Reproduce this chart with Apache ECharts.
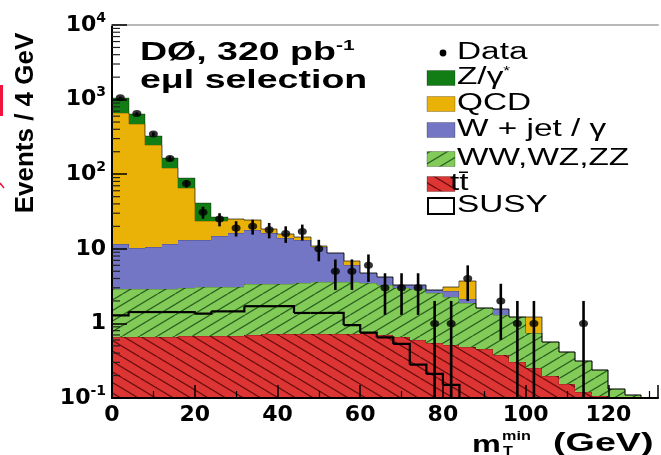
<!DOCTYPE html>
<html>
<head>
<meta charset="utf-8">
<script src="https://cdn.jsdelivr.net/npm/echarts@6/dist/echarts.min.js"></script>
<style>
html, body { margin: 0; padding: 0; background: #fff; }
#chart { width: 661px; height: 455px; }
</style>
</head>
<body>
<div id="chart"></div>
<script>
// bins of 4 GeV, low edges
var binWidth = 4
var binLow = [0, 4, 8, 12, 16, 20, 24, 28, 32, 36, 40, 44, 48, 52, 56, 60,
              64, 68, 72, 76, 80, 84, 88, 92, 96, 100, 104, 108, 112, 116, 120, 124]

// stacked backgrounds, bottom to top
var ttbar = [0.66, 0.66, 0.66, 0.66, 0.68, 0.68, 0.68, 0.68, 0.70, 0.72, 0.72, 0.72, 0.72, 0.72, 0.72, 0.74,
             0.70, 0.65, 0.60, 0.55, 0.51, 0.49, 0.46, 0.38, 0.30, 0.25, 0.20, 0.155, 0.12, 0.105, 0.04, 0.02]
var diboson = [2.24, 2.24, 2.24, 2.24, 2.27, 2.37, 2.42, 2.42, 2.70, 2.68, 2.68, 2.73, 2.83, 2.88, 2.88, 2.71,
               2.57, 2.30, 2.30, 2.00, 1.74, 1.41, 1.13, 0.92, 0.93, 0.49, 0.37, 0.265, 0.19, 0.135, 0.09, 0.09]
var wjet = [8.6, 7.3, 7.8, 8.6, 10.15, 10.05, 11.9, 13.0, 14.5, 13.1, 10.4, 9.65, 6.95, 5.1, 2.5, 1.25,
            0.93, 0.32, 0.37, 0.25, 0.47, 0.2, 0, 0.25, 0, 0, 0, 0, 0, 0, 0, 0]
var qcd = [644, 457, 235, 108.5, 51.6, 10.5, 8.4, 8.9, 6.4, 1.8, 1.8, 1.5, 0.3, 0, 0.8, 0,
           0, 0, 0, 0, 0.31, 1.6, 0, 0, 0, 0.49, 0, 0, 0, 0, 0, 0]
var zgamma = [405, 169, 79, 43, 25.1, 17.1, 3.7, 0, 0, 0, 0, 0, 0, 0, 0, 0,
              0, 0, 0, 0, 0, 0, 0, 0, 0, 0, 0, 0, 0, 0, 0, 0]
var susy = [1.28, 1.42, 1.42, 1.42, 1.42, 1.35, 1.45, 1.45, 1.70, 1.70, 1.70, 1.38, 1.38, 1.38, 0.95, 0.75,
            0.65, 0.53, 0.28, 0.21, 0.15, 0, 0, 0, 0, 0, 0, 0, 0, 0, 0, 0]

// data, 0 = no entry
var dataCounts = [1060, 650, 345, 162, 75, 31, 25, 19, 20, 18, 16, 17, 10, 5, 5, 6,
                  3, 3, 3, 1, 1, 4, 0, 2, 1, 1, 0, 0, 1, 0, 0, 0]
var dataErrors = [32.6, 25.5, 18.6, 12.7, 8.7, 5.6, 5.0, 4.4, 4.5, 4.2, 4.0, 4.1, 3.2, 2.2, 2.2, 2.4,
                  1.7, 1.7, 1.7, 1.0, 1.0, 2.0, 0, 1.4, 1.0, 1.0, 0, 0, 1.0, 0, 0, 0]

var xTicks = [0, 20, 40, 60, 80, 100, 120]
var yTickExps = [-1, 0, 1, 2, 3, 4]
var legendNames = ['Data', 'Z/γ*', 'QCD', 'W + jet / γ', 'WW,WZ,ZZ', 'tt\u0304', 'SUSY']

var yMin = 0.1, yMax = 10000, xMax = 132

function hatch(bg, line, dir) {
    var w = 35, h = 21
    var c = document.createElement('canvas')
    c.width = w; c.height = h
    var g = c.getContext('2d')
    g.fillStyle = bg
    g.fillRect(0, 0, w, h)
    g.strokeStyle = line
    g.lineWidth = 1.3
    for (var k = -2; k <= 2; k++) {
        var x0 = k * w / 2
        g.beginPath()
        if (dir > 0) { g.moveTo(x0, h); g.lineTo(x0 + w, 0) }
        else { g.moveTo(x0, 0); g.lineTo(x0 + w, h) }
        g.stroke()
    }
    return { image: c, repeat: 'repeat' }
}

var layers = [
    { name: 'tt\u0304', values: ttbar, fill: hatch('#dd3434', 'rgba(70,0,0,0.75)', -1) },
    { name: 'WW,WZ,ZZ', values: diboson, fill: hatch('#82cb58', 'rgba(20,70,20,0.8)', 1) },
    { name: 'W + jet / γ', values: wjet, fill: '#7376c4' },
    { name: 'QCD', values: qcd, fill: '#eab106' },
    { name: 'Z/γ*', values: zgamma, fill: '#117d14' }
]

// cumulative sums for the stack
var cum = []
var running = binLow.map(function () { return 0 })
layers.forEach(function (l) {
    var lo = running.slice()
    running = running.map(function (v, i) { return v + l.values[i] })
    cum.push({ lo: lo, hi: running.slice() })
})

function clampY(v) { return Math.max(v, yMin) }

function stackSeries(l, k) {
    var items = binLow.map(function (x, i) {
        var next = i + 1 < binLow.length ? cum[k].hi[i + 1] : 0
        return [x, x + binWidth, clampY(cum[k].lo[i]), clampY(cum[k].hi[i]), clampY(next)]
    })
    return {
        type: 'custom',
        name: l.name,
        clip: true,
        z: 2,
        encode: { x: [0, 1], y: 3 },
        data: items,
        renderItem: function (params, api) {
            var a = api.coord([api.value(0), api.value(2)])
            var b = api.coord([api.value(1), api.value(3)])
            var n = api.coord([api.value(1), api.value(4)])
            var x0 = Math.round(a[0]), x1 = Math.round(b[0])
            var y0 = Math.round(a[1]), y1 = Math.round(b[1])
            var kids = []
            if (y0 - y1 > 0) {
                kids.push({ type: 'rect', shape: { x: x0, y: y1, width: x1 - x0, height: y0 - y1 },
                            style: { fill: l.fill } })
            }
            kids.push({ type: 'polyline', shape: { points: [[x0, y1], [x1, y1], [x1, Math.round(n[1])]] },
                        style: { stroke: 'rgba(0,0,0,0.35)', lineWidth: 1, fill: null } })
            return { type: 'group', children: kids }
        }
    }
}

var series = layers.map(stackSeries)

// SUSY outline
series.push({
    type: 'custom',
    name: 'SUSY',
    clip: true,
    z: 4,
    encode: { x: [0, 1], y: 2 },
    data: binLow.map(function (x, i) {
        return [x, x + binWidth, clampY(susy[i]), clampY(i + 1 < susy.length ? susy[i + 1] : 0)]
    }),
    renderItem: function (params, api) {
        if (api.value(2) <= yMin && api.value(3) <= yMin) return null
        var a = api.coord([api.value(0), api.value(2)])
        var b = api.coord([api.value(1), api.value(2)])
        var c = api.coord([api.value(1), api.value(3)])
        return { type: 'polyline', shape: { points: [a, b, c] },
                 style: { stroke: '#000', lineWidth: 2.2, fill: null } }
    }
})

// data error bars
var dataIdx = []
dataCounts.forEach(function (v, i) { if (v > 0) dataIdx.push(i) })

series.push({
    type: 'custom',
    name: 'Data errors',
    clip: true,
    z: 20,
    encode: { x: 0, y: 2 },
    data: dataIdx.map(function (i) {
        var c = binLow[i] + binWidth / 2
        return [c, clampY(dataCounts[i] - dataErrors[i]), dataCounts[i] + dataErrors[i]]
    }),
    renderItem: function (params, api) {
        var lo = api.coord([api.value(0), api.value(1)])
        var hi = api.coord([api.value(0), api.value(2)])
        return { type: 'line', shape: { x1: lo[0], y1: lo[1], x2: hi[0], y2: hi[1] },
                 style: { stroke: '#000', lineWidth: 2.6 } }
    }
})

series.push({
    type: 'scatter',
    name: 'Data',
    z: 21,
    symbol: 'circle',
    symbolSize: [9, 7],
    itemStyle: { color: '#000' },
    data: dataIdx.map(function (i) { return [binLow[i] + binWidth / 2, dataCounts[i]] })
})

// minor ticks of the log axis
var mantissas = [2, 3, 4, 5, 6, 7, 8, 9]
var minorTickVals = []
yTickExps.slice(0, -1).forEach(function (e) {
    mantissas.forEach(function (m) { minorTickVals.push(m * Math.pow(10, e)) })
})
series.push({
    type: 'custom',
    name: 'minor',
    z: 30,
    silent: true,
    encode: { x: 0, y: 1 },
    data: minorTickVals.map(function (v) { return [0, v] }),
    renderItem: function (params, api) {
        var p = api.coord([api.value(0), api.value(1)])
        return { type: 'line', shape: { x1: p[0], y1: p[1], x2: p[0] + 8, y2: p[1] },
                 style: { stroke: '#222', lineWidth: 1.2 } }
    }
})

var labelFont = 'DejaVu Sans'
var sans = 'Liberation Sans'

function legendGraphics() {
    var rows = [53, 78, 104, 130, 159, 184, 206]
    var g = []
    legendNames.forEach(function (name, i) {
        var y = rows[i]
        if (i === 0) {
            g.push({ type: 'circle', shape: { cx: 443, cy: y, r: 3.4 }, style: { fill: '#000' } })
        } else if (i === 6) {
            g.push({ type: 'rect', shape: { x: 428, y: y - 8, width: 26, height: 16 },
                     style: { fill: '#fff', stroke: '#000', lineWidth: 2 } })
        } else {
            g.push({ type: 'rect', shape: { x: 427, y: y - 7.5, width: 28, height: 15 },
                     style: { fill: layers[5 - i].fill, stroke: 'rgba(0,0,0,0.25)', lineWidth: 1 } })
        }
        var txt = name === 'Z/γ*' ? 'Z/γ{s|*}' : name
        g.push({
            type: 'text', x: i === 5 ? 450 : 457, y: y, scaleX: 1.45,
            style: {
                text: txt, fill: '#000', font: '23px "' + sans + '"',
                verticalAlign: 'middle', align: 'left',
                rich: { s: { fontSize: 12, fontFamily: sans, verticalAlign: 'top', padding: [0, 0, 12, 0] } }
            }
        })
    })
    return g
}

var graphics = [
    { type: 'text', x: 140, y: 53, scaleX: 1.5,
      style: { text: 'DØ, 320 pb{s|-1}', fill: '#000', font: 'bold 25px "' + sans + '"', verticalAlign: 'middle',
               rich: { s: { fontSize: 14, fontWeight: 'bold', fontFamily: sans, padding: [0, 0, 14, 0] } } } },
    { type: 'text', x: 140, y: 81, scaleX: 1.5,
      style: { text: 'eμl selection', fill: '#000', font: 'bold 25px "' + sans + '"', verticalAlign: 'middle' } },
    { type: 'text', x: 26, y: 123, rotation: Math.PI / 2,
      style: { text: 'Events / 4 GeV', fill: '#000', font: 'bold 26px "' + sans + '"',
               align: 'center', verticalAlign: 'middle' } },
    { type: 'text', x: 472, y: 445, scaleX: 1.35,
      style: { text: 'm', fill: '#000', font: 'bold 24px "' + sans + '"', verticalAlign: 'middle' } },
    { type: 'text', x: 502, y: 437, scaleX: 1.35,
      style: { text: 'min', fill: '#000', font: 'bold 12px "' + sans + '"', verticalAlign: 'middle' } },
    { type: 'text', x: 503, y: 452, scaleX: 1.35,
      style: { text: 'T', fill: '#000', font: 'bold 12px "' + sans + '"', verticalAlign: 'middle' } },
    { type: 'text', x: 553, y: 444, scaleX: 1.45,
      style: { text: '(GeV)', fill: '#000', font: 'bold 26px "' + sans + '"', verticalAlign: 'middle' } },
    // bits of red from the cropped source
    { type: 'rect', shape: { x: 0, y: 85, width: 3, height: 31 }, style: { fill: '#f0143c' } },
    { type: 'line', shape: { x1: 0, y1: 183, x2: 4, y2: 188 }, style: { stroke: '#f0143c', lineWidth: 1.5 } }
].concat(legendGraphics())

var option = {
    animation: false,
    backgroundColor: '#fff',
    grid: { left: 112, top: 25, right: 0, bottom: 57 },
    xAxis: [{
        type: 'value',
        min: 0,
        max: xMax,
        interval: 20,
        z: 10,
        axisLine: { lineStyle: { color: '#000', width: 2 } },
        axisTick: { inside: true, length: 13, lineStyle: { color: '#000', width: 1.5 } },
        minorTick: { show: true, splitNumber: 2, length: 7, lineStyle: { color: '#000', width: 1.2 } },
        splitLine: { show: false },
        axisLabel: {
            margin: 6,
            color: '#000',
            fontFamily: labelFont,
            fontWeight: 'bold',
            fontSize: 22,
            formatter: function (v) { return xTicks.indexOf(v) >= 0 ? String(v) : '' }
        }
    }, {
        type: 'value',
        position: 'top',
        min: 0,
        max: xMax,
        z: 10,
        axisLine: { lineStyle: { color: '#b8b8b8', width: 2 } },
        axisTick: { show: false },
        axisLabel: { show: false },
        splitLine: { show: false }
    }],
    yAxis: {
        type: 'log',
        logBase: 10,
        min: yMin,
        max: yMax,
        splitNumber: 5,
        z: 10,
        axisLine: { lineStyle: { color: '#000', width: 2 } },
        axisTick: { inside: true, length: 15, lineStyle: { color: '#000', width: 1.5 } },
        splitLine: { show: false },
        axisLabel: {
            margin: 6,
            color: '#000',
            fontFamily: labelFont,
            fontWeight: 'bold',
            fontSize: 22,
            formatter: function (v) {
                var e = Math.round(Math.log10(v))
                if (yTickExps.indexOf(e) < 0) return ''
                if (e === 0) return '1'
                if (e === 1) return '10'
                return '10{sup|' + e + '}'
            },
            rich: {
                sup: { fontFamily: labelFont, fontWeight: 'bold', fontSize: 14, color: '#000',
                       padding: [0, 0, 14, 0] }
            }
        }
    },
    series: series,
    graphic: graphics
}

var chart = echarts.init(document.getElementById('chart'))
chart.setOption(option)
</script>
</body>
</html>
